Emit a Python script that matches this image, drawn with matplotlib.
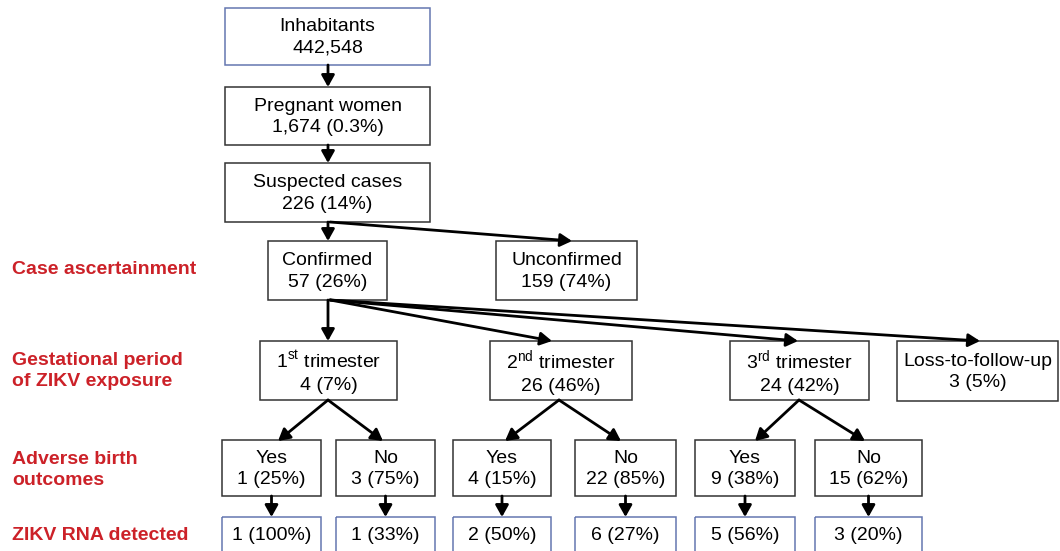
import matplotlib.pyplot as plt
from matplotlib.patches import Rectangle

plt.rcParams['font.family'] = ['Liberation Sans', 'DejaVu Sans']
plt.rcParams['mathtext.fontset'] = 'custom'
plt.rcParams['mathtext.rm'] = 'Liberation Sans'

# data
top_labels = ["Inhabitants", "Pregnant women", "Suspected cases"]
top_counts = [442548, 1674, 226]
top_pcts = [None, "0.3", "14"]

confirm_labels = ["Confirmed", "Unconfirmed"]
confirm_counts = [57, 159]
confirm_pcts = [26, 74]

trimester_labels = [r"1$^{\rm st}$ trimester", r"2$^{\rm nd}$ trimester",
                    r"3$^{\rm rd}$ trimester", "Loss-to-follow-up"]
trimester_counts = [4, 26, 24, 3]
trimester_pcts = [7, 46, 42, 5]

outcome_labels = ["Yes", "No", "Yes", "No", "Yes", "No"]
outcome_counts = [1, 3, 4, 22, 9, 15]
outcome_pcts = [25, 75, 15, 85, 38, 62]

rna_counts = [1, 1, 2, 6, 5, 3]
rna_pcts = [100, 33, 50, 27, 56, 20]

row_titles = ["Case ascertainment", "Gestational period\nof ZIKV exposure",
              "Adverse birth\noutcomes", "ZIKV RNA detected"]

# layout (pixels)
top_y = [(8, 65), (87, 145), (163, 222)]
top_x = (225, 430)
confirm_x = [(268, 387), (496, 637)]
confirm_y = (241, 300)
tri_x = [(260, 397), (490, 632), (730, 869), (897, 1058)]
tri_y = (341, 400)
out_x = [(222, 321), (336, 435), (453, 551), (575, 676), (695, 795), (815, 922)]
out_y = (440, 496)
rna_y = (517, 565)
title_y = [270, 371, 470, 536]

RED = "#cc2128"
BLUE = "#6477b0"
EDGE = "#333333"
FS = 14

fig = plt.figure(figsize=(10.6, 5.51), dpi=100)
ax = fig.add_axes([0, 0, 1, 1])
ax.set_xlim(0, 1060)
ax.set_ylim(551, 0)
ax.axis('off')


def box(x, y, text, edge=EDGE):
    ax.add_patch(Rectangle((x[0], y[0]), x[1] - x[0], y[1] - y[0],
                           fill=False, ec=edge, lw=1.1, clip_on=True))
    cy = (y[0] + y[1]) / 2 + 1
    if y[1] > 551:
        cy = 536
    ax.text((x[0] + x[1]) / 2, cy, text, ha='center', va='center',
            fontsize=FS, linespacing=1.38)


def arrow(p0, p1):
    ax.annotate("", xy=p1, xytext=p0,
                arrowprops=dict(arrowstyle="-|>,head_length=0.5,head_width=0.28",
                                lw=2, color='black', mutation_scale=14,
                                shrinkA=0, shrinkB=0))


def cx(x):
    return (x[0] + x[1]) / 2


for i, lab in enumerate(top_labels):
    txt = f"{top_counts[i]:,}"
    if top_pcts[i] is not None:
        txt += f" ({top_pcts[i]}%)"
    box(top_x, top_y[i], lab + "\n" + txt, edge=BLUE if i == 0 else EDGE)

for i, lab in enumerate(confirm_labels):
    box(confirm_x[i], confirm_y, f"{lab}\n{confirm_counts[i]} ({confirm_pcts[i]}%)")

for i, lab in enumerate(trimester_labels):
    ty = tri_y if i < 3 else (341, 401)
    box(tri_x[i], ty, f"{lab}\n{trimester_counts[i]} ({trimester_pcts[i]}%)")

for i, lab in enumerate(outcome_labels):
    box(out_x[i], out_y, f"{lab}\n{outcome_counts[i]} ({outcome_pcts[i]}%)")
    box(out_x[i], rna_y, f"{rna_counts[i]} ({rna_pcts[i]}%)", edge=BLUE)
    arrow((cx(out_x[i]), out_y[1]), (cx(out_x[i]), rna_y[0]))

for t, y in zip(row_titles, title_y):
    ax.text(12, y, t, ha='left', va='center', fontsize=FS, fontweight='bold',
            color=RED, linespacing=1.38)

# arrows
arrow((328, 65), (328, 87))
arrow((328, 145), (328, 163))
arrow((328, 222), (328, 241))
arrow((330, 222), (572, 241))
arrow((328, 300), (328, 341))
for tip in [552, 798, 980]:
    arrow((330, 300), (tip, 341))
apexes = [328, 559, 799]
tips = [(278, 383), (505, 621), (755, 865)]
for a, (l, r) in zip(apexes, tips):
    arrow((a, 400), (l, 441))
    arrow((a, 400), (r, 441))

fig.savefig("out.png", dpi=100, facecolor='white')
